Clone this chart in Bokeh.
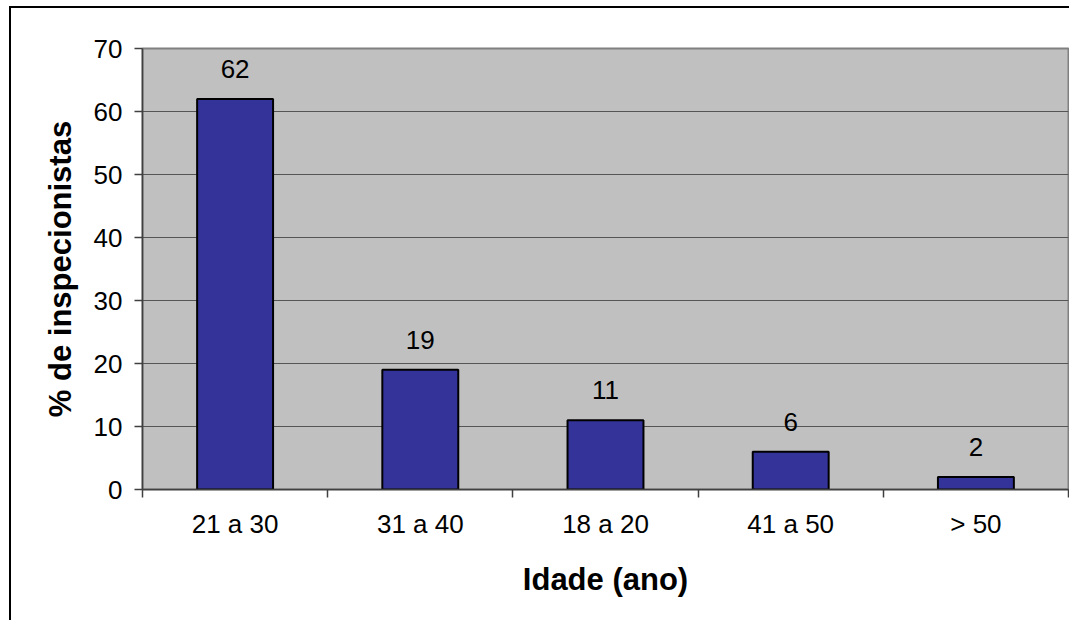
from bokeh.plotting import figure
from bokeh.models import ColumnDataSource, FixedTicker
from bokeh.core.properties import value
from bokeh.embed import file_html
from bokeh.resources import INLINE

categories = ["21 a 30", "31 a 40", "18 a 20", "41 a 50", "> 50"]
percentages = [62, 19, 11, 6, 2]
y_ticks = [0, 10, 20, 30, 40, 50, 60, 70]

centers = [i + 0.5 for i in range(len(categories))]
bounds = list(range(len(categories) + 1))

src = ColumnDataSource(data=dict(x=centers, cat=categories, val=percentages,
                                 lbl=[str(v) for v in percentages]))

p = figure(x_range=(0, len(categories)), y_range=(0, 70), width=1069, height=620,
           output_backend="svg", toolbar_location=None,
           min_border_left=142, min_border_right=1,
           min_border_top=48, min_border_bottom=131)
p.background_fill_color = "#C0C0C0"
p.border_fill_alpha = 0
p.outline_line_color = "#808080"
p.outline_line_width = 2
p.styles = {"box-shadow": "inset 9px 6px 0 0 #ffffff, inset 11px 8px 0 0 #000000"}

p.vbar(x="x", top="val", width=0.41, source=src,
       fill_color="#333399", line_color="black", line_width=2)

p.text(x="x", y="val", text="lbl", source=src, y_offset=-21,
       text_align="center", text_baseline="bottom",
       text_font=value("Liberation Sans"), text_font_size="26px",
       text_color="black")

p.xgrid.grid_line_color = None
p.ygrid.grid_line_color = "#555555"
p.ygrid.grid_line_width = 1
p.yaxis.ticker = FixedTicker(ticks=y_ticks)
p.yaxis.minor_tick_line_color = None

p.xaxis.ticker = FixedTicker(ticks=centers, minor_ticks=bounds)
p.xaxis.major_label_overrides = {c: lab for c, lab in zip(centers, categories)}

for ax in (p.xaxis[0], p.yaxis[0]):
    ax.axis_line_color = "#404040"
    ax.axis_line_width = 1.5
    ax.major_tick_line_color = "#404040"
    ax.major_tick_line_width = 1.5
    ax.major_tick_in = 0
    ax.major_tick_out = 8
    ax.major_label_text_font = "Liberation Sans"
    ax.major_label_text_font_size = "26px"
    ax.major_label_text_color = "black"
    ax.axis_label_text_font = "Liberation Sans"
    ax.axis_label_text_font_style = "bold"
    ax.axis_label_text_font_size = "31px"
    ax.axis_label_text_color = "black"

p.xaxis.major_tick_line_color = None
p.xaxis.major_tick_out = 8
p.xaxis.minor_tick_line_color = "#404040"
p.xaxis.minor_tick_line_width = 1.5
p.xaxis.minor_tick_in = 0
p.xaxis.minor_tick_out = 8

p.xaxis.axis_label = "Idade (ano)"
p.yaxis.axis_label = "% de inspecionistas"
p.yaxis.major_label_standoff = 12
p.xaxis.major_label_standoff = 11
p.yaxis.axis_label_standoff = 13
p.xaxis.axis_label_standoff = 20

open("out.html", "w").write(file_html(p, INLINE))
